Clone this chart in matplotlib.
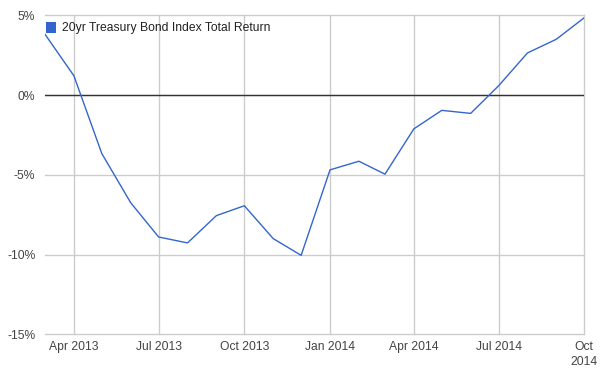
import matplotlib
matplotlib.use("Agg")
import matplotlib.pyplot as plt
import matplotlib.dates as mdates
from matplotlib.patches import Rectangle
from datetime import datetime

# ---- data ----
dates = ["2013-03-01", "2013-04-01", "2013-05-01", "2013-06-01", "2013-07-01",
         "2013-08-01", "2013-09-01", "2013-10-01", "2013-11-01", "2013-12-01",
         "2014-01-01", "2014-02-01", "2014-03-01", "2014-04-01", "2014-05-01",
         "2014-06-01", "2014-07-01", "2014-08-01", "2014-09-01", "2014-10-01"]
returns = [3.81, 1.21, -3.67, -6.75, -8.90, -9.27, -7.56, -6.94, -9.00, -10.05,
           -4.69, -4.15, -4.96, -2.12, -0.96, -1.15, 0.58, 2.64, 3.50, 4.85]
series_name = "20yr Treasury Bond Index Total Return"
x_tick_dates = ["2013-04-01", "2013-07-01", "2013-10-01", "2014-01-01",
                "2014-04-01", "2014-07-01", "2014-10-01"]
x_tick_labels = ["Apr 2013", "Jul 2013", "Oct 2013", "Jan 2014",
                 "Apr 2014", "Jul 2014", "Oct\n2014"]
y_ticks = [-15, -10, -5, 0, 5]
y_tick_labels = ["-15%", "-10%", "-5%", "0%", "5%"]

plt.rcParams['font.family'] = ['Liberation Sans', 'DejaVu Sans']

W, H = 609, 381
fig = plt.figure(figsize=(W / 100, H / 100), dpi=100)
left, right, top, bottom = 45, 584.3, 15.3, 334.3
ax = fig.add_axes([left / W, 1 - bottom / H, (right - left) / W, (bottom - top) / H])

xd = [datetime.strptime(d, "%Y-%m-%d") for d in dates]
xt = [datetime.strptime(d, "%Y-%m-%d") for d in x_tick_dates]

line_color = "#3366cc"
ax.plot(xd, returns, color=line_color, linewidth=1.0, zorder=3)

ax.set_xlim(xd[0], xd[-1])
ax.set_ylim(-15, 5)
ax.set_xticks(xt)
ax.set_xticklabels(x_tick_labels)
ax.set_yticks(y_ticks)
ax.set_yticklabels(y_tick_labels)

for s in ax.spines.values():
    s.set_visible(False)
ax.grid(True, color="#cccccc", linewidth=1.0, zorder=0)
for gl in ax.get_xgridlines() + ax.get_ygridlines():
    gl.set_clip_on(False)
ax.axhline(0, color="#333333", linewidth=1.0, zorder=2)
ax.tick_params(axis="both", length=0, labelsize=8.7, colors="#444444")
ax.tick_params(axis="x", pad=5)
ax.tick_params(axis="y", pad=7)
for lbl in ax.get_xticklabels():
    lbl.set_linespacing(1.35)

# legend (manual, in pixel coordinates)
sq = Rectangle((45.7 / W, 1 - 33.3 / H), 10.5 / W, 11 / H, transform=fig.transFigure,
               facecolor=line_color, edgecolor="none", zorder=5)
fig.patches.append(sq)
fig.text(62.3 / W, 1 - 27.8 / H, series_name, fontsize=8.7, color="#222222",
         va="center", ha="left")

fig.savefig("out.png", dpi=100)
